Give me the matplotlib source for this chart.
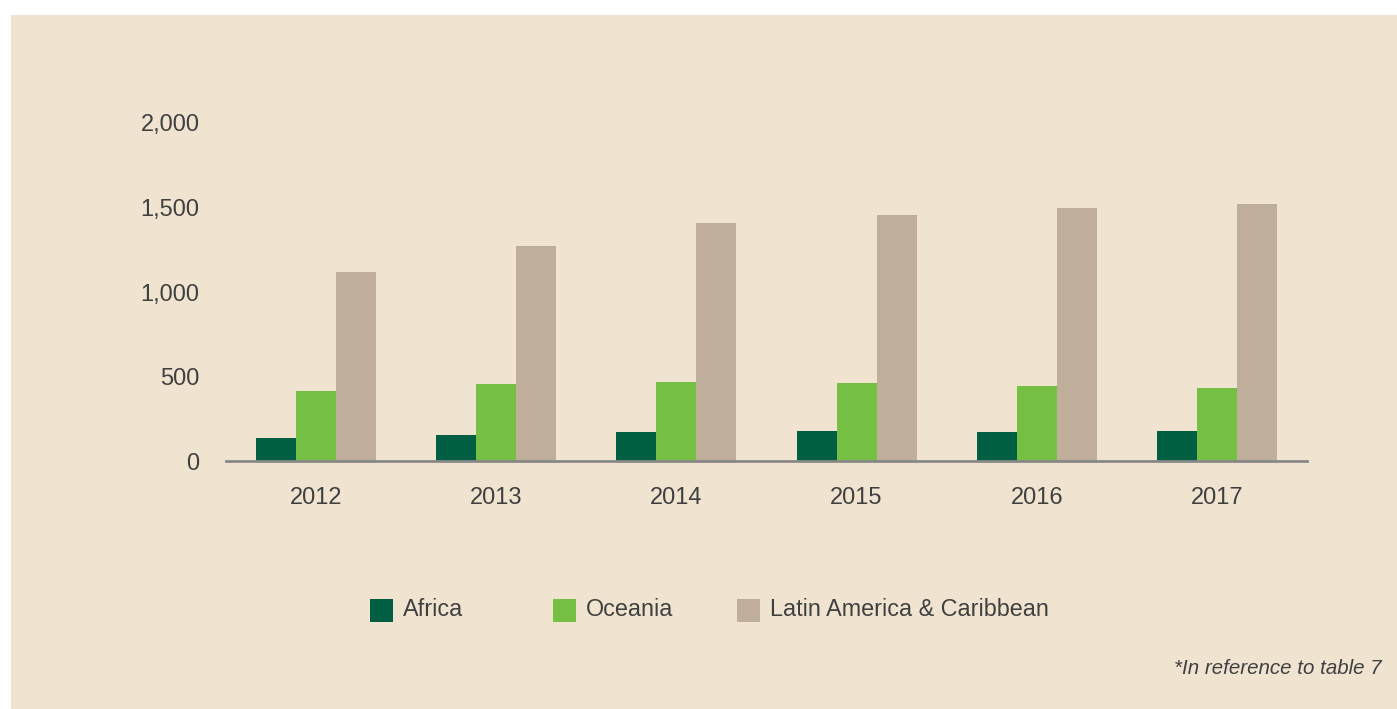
import numpy as np
import matplotlib.pyplot as plt
from matplotlib.patches import Rectangle

years = ['2012', '2013', '2014', '2015', '2016', '2017']
africa = [138, 154, 172, 176, 170, 176]
oceania = [414, 454, 466, 462, 442, 430]
latam = [1116, 1274, 1406, 1456, 1495, 1519]
series_names = ['Africa', 'Oceania', 'Latin America & Caribbean']
colors = ['#005E43', '#74BF44', '#BFAE9A']

plt.rcParams['font.family'] = ['Liberation Sans', 'DejaVu Sans']
txt = '#404040'
bg = '#F0E4D1'
W, H = 1397, 709

fig = plt.figure(figsize=(13.97, 7.09), dpi=100, facecolor='white')
fig.patches.append(Rectangle((11 / W, 0), 1 - 11 / W, 694 / H,
                             transform=fig.transFigure, facecolor=bg,
                             edgecolor='none', zorder=-10))

ax = fig.add_axes([226 / W, 1 - 461 / H, (1307 - 226) / W, (461 - 123) / H])
ax.set_facecolor('none')

x = np.arange(len(years))
w = 0.2222
for i, (vals, c) in enumerate(zip([africa, oceania, latam], colors)):
    ax.bar(x + (i - 1) * w, vals, width=w, color=c, edgecolor='none', zorder=2)

ax.set_xlim(-0.5, len(years) - 0.5)
ax.set_ylim(0, 2000)
ax.set_yticks([0, 500, 1000, 1500, 2000])
ax.set_yticklabels(['0', '500', '1,000', '1,500', '2,000'])
ax.set_xticks(x)
ax.set_xticklabels(years)
ax.tick_params(axis='y', length=0, pad=19, labelsize=17, labelcolor=txt)
ax.tick_params(axis='x', length=0, pad=18.5, labelsize=17, labelcolor=txt)
for s in ['top', 'right', 'left']:
    ax.spines[s].set_visible(False)
ax.spines['bottom'].set_color('#888888')
ax.spines['bottom'].set_linewidth(2)
ax.spines['bottom'].set_zorder(3)

# legend: equal-width columns
leg_x = [370, 553, 737]
leg_y = 610
for lx, name, c in zip(leg_x, series_names, colors):
    fig.patches.append(Rectangle((lx / W, 1 - (leg_y + 11.5) / H), 23 / W, 23 / H,
                                 transform=fig.transFigure, facecolor=c, edgecolor='none'))
    fig.text((lx + 33) / W, 1 - leg_y / H, name, ha='left', va='center',
             fontsize=16.8, color=txt)

fig.text(1382 / W, 1 - 668 / H, '*In reference to table 7', ha='right', va='center',
         fontsize=14.8, style='italic', color=txt)

fig.savefig('out.png', dpi=100, facecolor=fig.get_facecolor())
